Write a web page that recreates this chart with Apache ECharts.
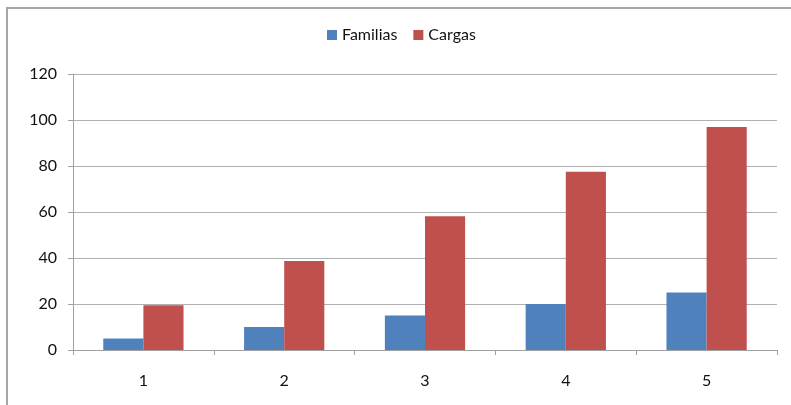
<!DOCTYPE html>
<html>
<head>
<meta charset="utf-8">
<script src="https://cdn.jsdelivr.net/npm/echarts@6/dist/echarts.min.js"></script>
<style>
html,body{margin:0;padding:0;background:#fff;}
#wrap{position:relative;width:791px;height:405px;overflow:hidden;}
#frame{position:absolute;left:6px;top:7px;width:800px;height:420px;border-left:2px solid #a6a6a6;border-top:2px solid #a6a6a6;box-sizing:border-box;}
#chart{position:absolute;left:0;top:0;width:791px;height:405px;}
</style>
</head>
<body>
<div id="wrap"><div id="frame"></div><div id="chart"></div></div>
<script>
const categories = ['1', '2', '3', '4', '5'];
const familias = [5, 10, 15, 20, 25];
const cargas = [19.5, 38.7, 58.2, 77.5, 97];
const yTicks = { min: 0, max: 120, interval: 20 };

const chart = echarts.init(document.getElementById('chart'));
const font = 'Lato, "Open Sans", sans-serif';
chart.setOption({
  animation: false,
  backgroundColor: 'transparent',
  legend: {
    top: 22, left: 322,
    itemWidth: 10, itemHeight: 10, itemGap: 16,
    icon: 'rect',
    textStyle: { fontFamily: font, fontSize: 16, color: '#111' },
    data: ['Familias', 'Cargas']
  },
  grid: { left: 73, right: 14, top: 74, bottom: 55, containLabel: false },
  xAxis: {
    type: 'category',
    data: categories,
    axisLine: { lineStyle: { color: '#a0a0a0', width: 1 } },
    axisTick: { show: true, length: 5, lineStyle: { color: '#a0a0a0' } },
    axisLabel: { fontFamily: font, fontSize: 16, color: '#111', margin: 23 }
  },
  yAxis: {
    type: 'value',
    min: yTicks.min, max: yTicks.max, interval: yTicks.interval,
    axisLine: { show: true, lineStyle: { color: '#a0a0a0', width: 1 } },
    axisTick: { show: true, length: 5, lineStyle: { color: '#a0a0a0' } },
    axisLabel: { fontFamily: font, fontSize: 16, color: '#111', margin: 16 },
    splitLine: { lineStyle: { color: '#b0b0b0', width: 1 } }
  },
  series: [
    { name: 'Familias', type: 'bar', data: familias, barGap: '0%', barCategoryGap: '43%',
      itemStyle: { color: '#4F81BD' } },
    { name: 'Cargas', type: 'bar', data: cargas, barGap: '0%', barCategoryGap: '43%',
      itemStyle: { color: '#C0504D' } }
  ]
});
</script>
</body>
</html>
